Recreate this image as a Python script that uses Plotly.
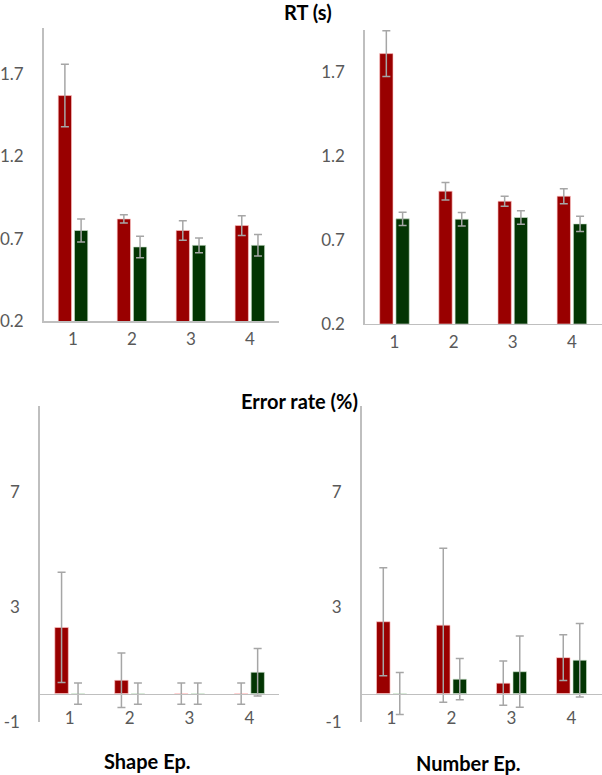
import plotly.graph_objects as go

# ---------------- data ----------------
categories = ["1", "2", "3", "4"]

rt_shape_red = [1.57, 0.82, 0.75, 0.78]
rt_shape_red_err = [0.19, 0.025, 0.06, 0.06]
rt_shape_green = [0.75, 0.65, 0.66, 0.66]
rt_shape_green_err = [0.07, 0.065, 0.045, 0.065]

rt_number_red = [1.81, 0.99, 0.93, 0.96]
rt_number_red_err = [0.136, 0.052, 0.03, 0.045]
rt_number_green = [0.825, 0.823, 0.833, 0.795]
rt_number_green_err = [0.04, 0.04, 0.04, 0.045]

err_shape_red = [2.3, 0.46, 0, 0]
err_shape_red_err = [1.92, 0.95, 0.37, 0.37]
err_shape_green = [0, 0, 0, 0.74]
err_shape_green_err = [0.37, 0.37, 0.37, 0.83]

err_number_red = [2.5, 2.38, 0.36, 1.25]
err_number_red_err = [1.88, 2.68, 0.77, 0.8]
err_number_green = [0, 0.5, 0.76, 1.16]
err_number_green_err = [0.73, 0.72, 1.24, 1.28]

rt_ticks = [0.2, 0.7, 1.2, 1.7]
err_ticks = [-1, 3, 7]

# ---------------- style ----------------
W, H = 602, 775
VS = 0.984  # observed vertical compression of the photographed page
RED = "#990000"
GREEN = "#033503"
AXIS = "#bfbfbf"
ERR = "#a6a6a6"
TICKFONT = dict(family="Lato, 'Open Sans', sans-serif", size=17, color="#595959")
TITLEFONT = dict(family="Lato, 'Open Sans', sans-serif", size=20, color="#000000")


def xdom(x0, x1):
    return [x0 / W, x1 / W]


def ypaper(py):
    return 1 - (py / VS) / H


def ydom(ytop, ybot):
    return [ypaper(ybot), ypaper(ytop)]


fig = go.Figure()

panels = [
    ("x", "y", rt_shape_red, rt_shape_red_err, rt_shape_green, rt_shape_green_err),
    ("x2", "y2", rt_number_red, rt_number_red_err, rt_number_green, rt_number_green_err),
    ("x3", "y3", err_shape_red, err_shape_red_err, err_shape_green, err_shape_green_err),
    ("x4", "y4", err_number_red, err_number_red_err, err_number_green, err_number_green_err),
]

for xa, ya, red, rerr, green, gerr in panels:
    fig.add_trace(go.Bar(
        x=categories, y=red, xaxis=xa, yaxis=ya, offsetgroup="a",
        marker=dict(color=RED, line=dict(color="rgba(255,200,200,0.8)", width=0.8)),
        error_y=dict(type="data", array=rerr, color=ERR, thickness=1.5, width=4),
        showlegend=False,
    ))
    fig.add_trace(go.Bar(
        x=categories, y=green, xaxis=xa, yaxis=ya, offsetgroup="b",
        marker=dict(color=GREEN, line=dict(color="rgba(210,230,210,0.8)", width=0.8)),
        error_y=dict(type="data", array=gerr, color=ERR, thickness=1.5, width=4),
        showlegend=False,
    ))

common_x = dict(showline=True, linecolor=AXIS, linewidth=1.5, showgrid=False, zeroline=False,
                ticks="", tickfont=TICKFONT, fixedrange=True)
common_y = dict(showline=True, linecolor=AXIS, linewidth=1.5, showgrid=False, zeroline=False,
                ticks="", tickfont=TICKFONT, ticklabelstandoff=15)

y1dom = ydom(28, 320)
y2dom = ydom(30, 322.7)
err_dom = ydom(405, 720)
err_range = [-1, 10]
zero_pos = err_dom[0] + (0 - err_range[0]) / (err_range[1] - err_range[0]) * (err_dom[1] - err_dom[0])

fig.update_layout(
    width=W, height=H,
    margin=dict(l=0, r=0, t=0, b=0),
    paper_bgcolor="white", plot_bgcolor="white",
    barmode="group", bargap=0.45, bargroupgap=0.18,
    xaxis=dict(domain=xdom(36, 275), anchor="y", ticklabelstandoff=2, **common_x),
    yaxis=dict(domain=y1dom, anchor="x", range=[0.2, 1.98], tickvals=rt_ticks,
               ticktext=[f"{v:.1f}" for v in rt_ticks], **common_y),
    xaxis2=dict(domain=xdom(361.7, 601.5), anchor="y2", ticklabelstandoff=2, **common_x),
    yaxis2=dict(domain=y2dom, anchor="x2", range=[0.2, 1.95], tickvals=rt_ticks,
                ticktext=[f"{v:.1f}" for v in rt_ticks], **common_y),
    xaxis3=dict(domain=xdom(32.3, 275), anchor="free", position=zero_pos, ticklabelstandoff=9, **common_x),
    yaxis3=dict(domain=err_dom, anchor="x3", range=err_range, tickvals=err_ticks,
                ticktext=[str(v) for v in err_ticks], **common_y),
    xaxis4=dict(domain=xdom(358.3, 601.5), anchor="free", position=zero_pos, ticklabelstandoff=9, **common_x),
    yaxis4=dict(domain=err_dom, anchor="x4", range=err_range, tickvals=err_ticks,
                ticktext=[str(v) for v in err_ticks], **common_y),
)

annots = [
    ("<b>RT (s)</b>", 304, 12),
    ("<b>Error rate (%)</b>", 295, 400),
    ("<b>Shape Ep.</b>", 141, 759),
    ("<b>Number Ep.</b>", 467, 761),
]
for text, px, py in annots:
    fig.add_annotation(text=text, x=px / W, y=ypaper(py), xref="paper", yref="paper",
                       xanchor="center", yanchor="middle", showarrow=False, font=TITLEFONT)

post = (
    "var de=document.documentElement, b=document.body;"
    "de.style.margin='0';de.style.padding='0';de.style.overflow='hidden';"
    "b.style.margin='0';b.style.padding='0';b.style.overflow='hidden';"
)

fig.write_html(
    "out.html",
    config={"displayModeBar": False, "staticPlot": True},
    post_script=post,
)
